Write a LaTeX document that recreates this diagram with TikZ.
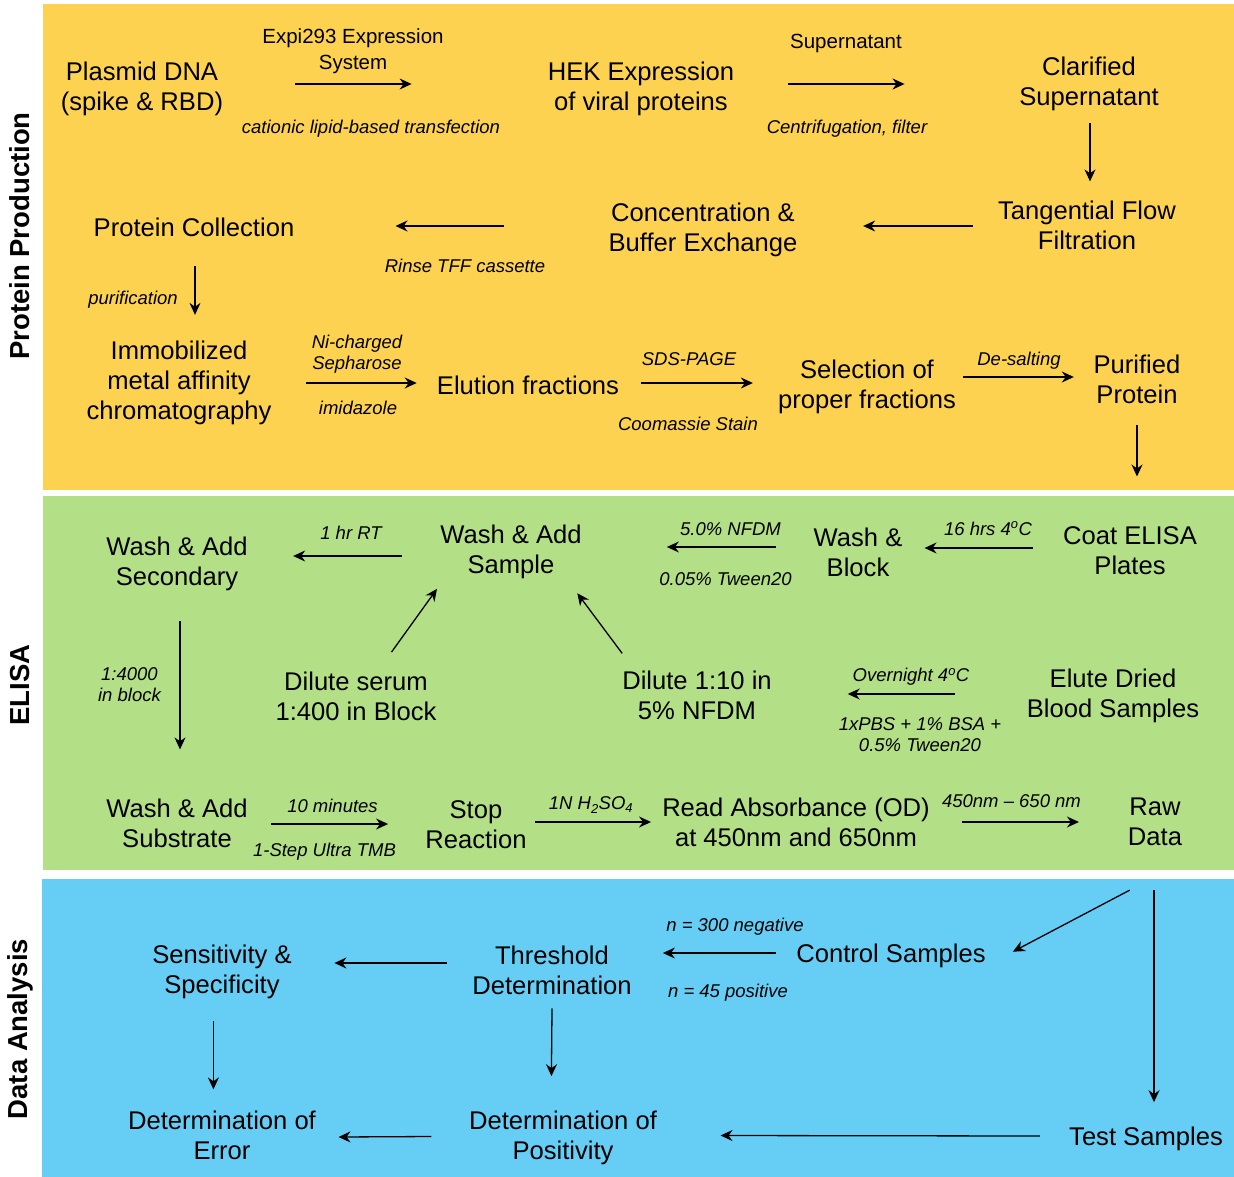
\documentclass[tikz,border=0pt]{standalone}
\usepackage{fontspec}
\setmainfont{Liberation Sans}
\usetikzlibrary{arrows.meta}

\definecolor{franjaprod}{RGB}{253,210,80}
\definecolor{franjaelisa}{RGB}{179,224,134}
\definecolor{franjadatos}{RGB}{102,206,245}

\tikzset{
	paso/.style={align=center, inner sep=0pt, font=\fontsize{25.6}{30}\selectfont},
	nota/.style={align=center, inner sep=0pt, font=\fontsize{18.5}{21}\selectfont\itshape},
	notarecta/.style={align=center, inner sep=0pt, font=\fontsize{20.5}{26}\selectfont},
	etapa/.style={rotate=90, inner sep=0pt, font=\fontsize{27.5}{32}\selectfont\bfseries},
	flecha/.style={-{Stealth[length=12pt,width=11pt]}, line width=1.3pt},
}

\begin{document}
\begin{tikzpicture}[x=1pt,y=-1pt]
	\useasboundingbox (0,0) rectangle (1234,1177);
	% Franjas
	\fill[franjaprod] (43,4) rectangle (1234,490);
	\fill[franjaelisa] (43,496) rectangle (1234,870);
	\fill[franjadatos] (42,879) rectangle (1234,1177);
	
	\node[etapa] (tprod) at (20,236) {Protein Production};
	\node[etapa] (telisa) at (20,685) {ELISA};
	\node[etapa] (tdatos) at (20,1029) {Data Analysis};
	
	% Protein Production
	\node[paso] (plasmid) at (142,89) {Plasmid DNA\\(spike \& RBD)};
	\node[paso] (hek) at (641,89) {HEK Expression\\of viral proteins};
	\node[paso] (clarified) at (1089,84) {Clarified\\Supernatant};
	\node[paso] (tff) at (1087,225) {Tangential Flow\\Filtration};
	\node[paso] (conc) at (703,230) {Concentration \&\\Buffer Exchange};
	\node[paso] (collect) at (194,227) {Protein Collection};
	\node[paso] (imac) at (179,383) {Immobilized\\metal affinity\\chromatography};
	\node[paso] (elution) at (528,385) {Elution fractions};
	\node[paso] (selection) at (867,387) {Selection of\\proper fractions};
	\node[paso] (purified) at (1137,379) {Purified\\Protein};
	\coordinate (pdown) at (1137,476.5);
	
	\node[notarecta] (lexpi) at (353,51) {Expi293 Expression\\System};
	\node[notarecta] (lsuper) at (846,43) {Supernatant};
	\node[nota] (lcation) at (371,129) {cationic lipid-based transfection};
	\node[nota] (lcentri) at (847,129) {Centrifugation, filter};
	\node[nota] (lrinse) at (465,266) {Rinse TFF cassette};
	\node[nota] (lpurif) at (133,300) {purification};
	\node[nota] (lnich) at (357,354.5) {Ni-charged\\Sepharose};
	\node[nota] (limid) at (358,408) {imidazole};
	\node[nota] (lsds) at (689,359) {SDS-PAGE};
	\node[nota] (lcoom) at (688,423.5) {Coomassie Stain};
	\node[nota] (ldesal) at (1019,361) {De-salting};
	
	\draw[flecha] ([xshift=72pt,yshift=5pt]plasmid.east) -- ([xshift=-136pt,yshift=5pt]hek.west);
	\draw[flecha] ([xshift=54pt,yshift=5pt]hek.east) -- ([xshift=-114.5pt]clarified.west);
	\draw[flecha] ([xshift=1pt,yshift=-12pt]clarified.south) -- ([xshift=3pt,yshift=19pt]tff.north);
	\draw[flecha] ([xshift=-25pt,yshift=-1pt]tff.west) -- ([xshift=65.5pt,yshift=4pt]conc.east);
	\draw[flecha] ([xshift=-104.5pt,yshift=4pt]conc.west) -- ([xshift=101pt,yshift=1pt]collect.east);
	\draw[flecha] ([xshift=1pt,yshift=-29pt]collect.south) -- ([xshift=16pt,yshift=26pt]imac.north);
	\draw[flecha] ([xshift=34.5pt]imac.east) -- ([xshift=-20pt,yshift=2pt]elution.west);
	\draw[flecha] ([xshift=21.4pt,yshift=2pt]elution.east) -- ([xshift=-25pt,yshift=4pt]selection.west);
	\draw[flecha] ([xshift=7pt,yshift=10pt]selection.east) -- ([xshift=-19.6pt,yshift=2pt]purified.west);
	\draw[flecha] ([yshift=-21pt]purified.south) -- (pdown);
	
	% ELISA
	\node[paso] (coat) at (1130,551) {Coat ELISA\\Plates};
	\node[paso] (washblock) at (858,552) {Wash \&\\Block};
	\node[paso] (washsample) at (511,552) {Wash \& Add\\Sample};
	\node[paso] (washsec) at (177,564) {Wash \& Add\\Secondary};
	\node[paso] (dilserum) at (356,696) {Dilute serum\\1:400 in Block};
	\node[paso] (dilten) at (697,695) {Dilute 1:10 in\\5\% NFDM};
	\node[paso] (elute) at (1113,696) {Elute Dried\\Blood Samples};
	\node[paso] (washsub) at (177,823) {Wash \& Add\\Substrate};
	\node[paso] (stop) at (476,825) {Stop\\Reaction};
	\node[paso] (read) at (796,822) {Read Absorbance (OD)\\at 450nm and 650nm};
	\node[paso] (raw) at (1155,822) {Raw\\Data};
	
	\node[nota] (lsixteen) at (988,528.5) {16 hrs 4\textsuperscript{o}C};
	\node[nota] (lnfdm) at (730.5,529) {5.0\% NFDM};
	\node[nota] (ltween) at (725.5,579) {0.05\% Tween20};
	\node[nota] (lhour) at (351,533) {1 hr RT};
	\node[nota] (lovern) at (911,677) {Overnight 4\textsuperscript{o}C};
	\node[nota] (lpbs) at (920,735) {1xPBS + 1\% BSA +\\0.5\% Tween20};
	\node[nota] (lblock) at (129.5,684.5) {1:4000\\in block};
	\node[nota] (lten) at (332.5,806) {10 minutes};
	\node[nota] (ltmb) at (324.5,852) {1-Step Ultra TMB};
	\node[nota] (lacid) at (591,805) {1N H\textsubscript{2}SO\textsubscript{4}};
	\node[nota] (lwave) at (1011.5,801) {450nm \textendash{} 650 nm};
	
	\draw[flecha] ([xshift=-30pt,yshift=3pt]coat.west) -- ([xshift=22pt,yshift=4pt]washblock.east);
	\draw[flecha] ([xshift=-37.5pt,yshift=5pt]washblock.west) -- ([xshift=85pt,yshift=5pt]washsample.east);
	\draw[flecha] ([xshift=-38.5pt,yshift=-4pt]washsample.west) -- ([xshift=45.3pt,yshift=8pt]washsec.east);
	\draw[flecha] ([xshift=35.5pt,yshift=19.3pt]dilserum.north) -- ([xshift=-74pt,yshift=-9.7pt]washsample.south);
	\draw[flecha] ([xshift=-74.8pt,yshift=17pt]dilten.north) -- ([xshift=66.3pt,yshift=-14.1pt]washsample.south);
	\draw[flecha] ([xshift=-71.5pt,yshift=2pt]elute.west) -- ([xshift=75.8pt,yshift=1pt]dilten.east);
	\draw[flecha] ([xshift=3pt,yshift=-30pt]washsec.south) -- ([xshift=3pt,yshift=49pt]washsub.north);
	\draw[flecha] ([xshift=23.6pt,yshift=-1pt]washsub.east) -- ([xshift=-37.2pt,yshift=1pt]stop.west);
	\draw[flecha] ([xshift=8.5pt,yshift=3pt]stop.east) -- ([xshift=-11pt]read.west);
	\draw[flecha] ([xshift=32.5pt]read.east) -- ([xshift=-48.8pt]raw.west);
	
	% Data Analysis
	\node[paso] (control) at (891,956) {Control Samples};
	\node[paso] (threshold) at (552,970) {Threshold\\Determination};
	\node[paso] (sens) at (222,972) {Sensitivity \&\\Specificity};
	\node[paso] (deterror) at (222,1135) {Determination of\\Error};
	\node[paso] (detpos) at (563,1137.5) {Determination of\\Positivity};
	\node[paso] (test) at (1146,1139) {Test Samples};
	
	\node[nota] (lneg) at (735,927) {n = 300 negative};
	\node[nota] (lpos) at (728,993) {n = 45 positive};
	
	\draw[flecha] ([xshift=-25.3pt,yshift=-44pt]raw.south) -- ([xshift=27pt,yshift=4.3pt]control.east);
	\draw[flecha] ([xshift=-1pt,yshift=-44pt]raw.south) -- ([xshift=8pt,yshift=24.7pt]test.north);
	\draw[flecha] ([xshift=-20.5pt,yshift=3pt]control.west) -- ([xshift=31pt,yshift=17pt]threshold.east);
	\draw[flecha] ([xshift=-25.5pt,yshift=7pt]threshold.west) -- ([xshift=42.5pt,yshift=9pt]sens.east);
	\draw[flecha] ([yshift=-13.7pt]threshold.south) -- ([xshift=-11.6pt,yshift=34.2pt]detpos.north);
	\draw[flecha] ([xshift=-8.6pt,yshift=-21.9pt]sens.south) -- ([xshift=-8.6pt,yshift=21pt]deterror.north);
	\draw[flecha] ([xshift=-37.5pt,yshift=1pt]detpos.west) -- ([xshift=22.4pt,yshift=-2pt]deterror.east);
	\draw[flecha] ([xshift=-29pt,yshift=3pt]test.west) -- ([xshift=63.4pt,yshift=2pt]detpos.east);
\end{tikzpicture}
\end{document}
